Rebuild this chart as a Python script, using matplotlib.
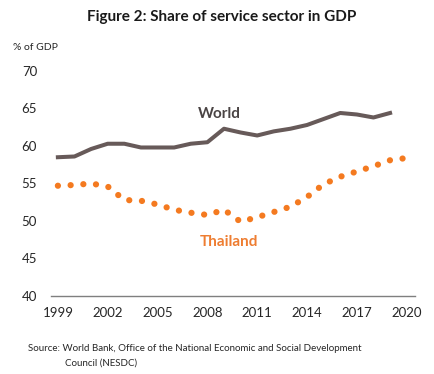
import matplotlib.pyplot as plt

years_world = list(range(1999, 2020))
world = [58.5, 58.6, 59.6, 60.3, 60.3, 59.8, 59.8, 59.8, 60.3, 60.5, 62.3,
         61.8, 61.4, 61.95, 62.3, 62.8, 63.6, 64.4, 64.2, 63.8, 64.4]

years_thai = list(range(1999, 2021))
thailand = [54.7, 54.8, 55.0, 54.6, 52.8, 52.7, 52.2, 51.5, 51.1, 50.8, 51.5,
            49.9, 50.5, 51.2, 51.9, 53.2, 54.9, 55.9, 56.6, 57.3, 58.1, 58.4]

xticks = [1999, 2002, 2005, 2008, 2011, 2014, 2017, 2020]
yticks = [40, 45, 50, 55, 60, 65, 70]

plt.rcParams['font.family'] = ['Lato', 'DejaVu Sans']

fig = plt.figure(figsize=(4.35, 3.74), dpi=100)
ax = fig.add_axes([0.117, 0.2086, 0.837, 0.6016])

ax.plot(years_world, world, color='#675a59', linewidth=2.9, solid_joinstyle='round')
ax.plot(years_thai, thailand, color='#f47a20', linewidth=4.5,
        linestyle=(0, (0.01, 2.03)), dash_capstyle='round')

ax.set_xlim(1998.58, 2020.5)
ax.set_ylim(40, 70)
ax.set_xticks(xticks)
ax.set_yticks(yticks)
ax.tick_params(axis='both', length=0, labelsize=9.5, colors='#262626')
ax.tick_params(axis='y', pad=10)
ax.tick_params(axis='x', pad=8)
for s in ['top', 'right', 'left']:
    ax.spines[s].set_visible(False)
ax.spines['bottom'].set_color('#7f7f7f')
ax.spines['bottom'].set_linewidth(1.0)

ax.text(2008.7, 64.27, 'World', color='#4a4444', fontsize=11, fontweight='bold',
        ha='center', va='center')
ax.text(2009.3, 47.24, 'Thailand', color='#ee7d31', fontsize=11, fontweight='bold',
        ha='center', va='center')

fig.text(0.51, 0.955, 'Figure 2: Share of service sector in GDP', fontsize=11,
         fontweight='bold', ha='center', va='center', color='#1a1a1a')
fig.text(0.03, 0.872, '% of GDP', fontsize=7.5, ha='left', va='center', color='#262626')
fig.text(0.064, 0.069, 'Source: World Bank, Office of the National Economic and Social Development',
         fontsize=7, ha='left', va='center', color='#262626')
fig.text(0.149, 0.029, 'Council (NESDC)', fontsize=7, ha='left', va='center', color='#262626')

fig.savefig('out.png', dpi=100)
